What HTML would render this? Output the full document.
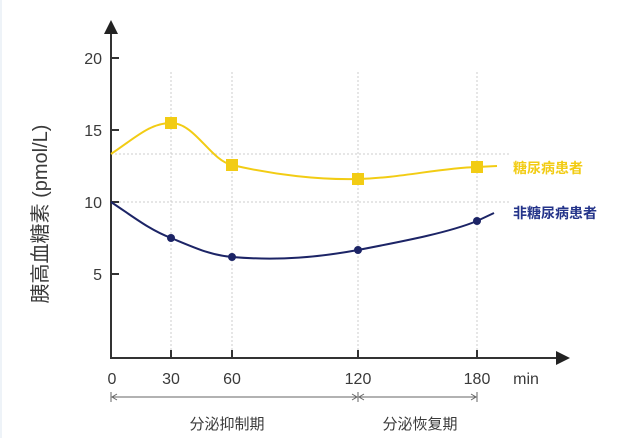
<!DOCTYPE html>
<html><head><meta charset="utf-8"><style>
body{margin:0;background:#fff}
svg{display:block;font-family:"Liberation Sans","Noto Sans CJK SC",sans-serif}
</style></head><body>
<svg width="630" height="438" viewBox="0 0 630 438">
<rect x="0" y="0" width="630" height="438" fill="#fff"/>
<rect x="0" y="0" width="2" height="438" fill="#eef3f8"/>
<g stroke="#ccc" stroke-width="1" stroke-dasharray="2,2" fill="none">
<line x1="171" y1="72" x2="171" y2="358"/>
<line x1="232" y1="72" x2="232" y2="358"/>
<line x1="358" y1="72" x2="358" y2="358"/>
<line x1="477" y1="72" x2="477" y2="358"/>
<line x1="111" y1="154" x2="510" y2="154"/>
<line x1="111" y1="202" x2="510" y2="202"/>
</g>
<g stroke="#333" stroke-width="2" fill="none">
<line x1="111" y1="30" x2="111" y2="359"/>
<line x1="110" y1="358" x2="560" y2="358"/>
<line x1="111" y1="58" x2="119" y2="58"/>
<line x1="111" y1="130" x2="119" y2="130"/>
<line x1="111" y1="202" x2="119" y2="202"/>
<line x1="111" y1="274" x2="119" y2="274"/>
<line x1="171" y1="350" x2="171" y2="358"/>
<line x1="232" y1="350" x2="232" y2="358"/>
<line x1="358" y1="350" x2="358" y2="358"/>
<line x1="477" y1="350" x2="477" y2="358"/>
</g>
<polygon points="111,20 104,34 118,34" fill="#222"/>
<polygon points="570,358 556,351 556,365" fill="#222"/>
<g font-size="16" fill="#3a3a3a" text-anchor="end">
<text x="102" y="64">20</text><text x="102" y="136">15</text><text x="102" y="208">10</text><text x="102" y="280">5</text>
</g>
<g font-size="16" fill="#3a3a3a" text-anchor="middle">
<text x="112" y="384">0</text><text x="171" y="384">30</text><text x="232" y="384">60</text><text x="358" y="384">120</text><text x="477" y="384">180</text>
<text x="526" y="384">min</text>
</g>
<text transform="translate(47,214) rotate(-90)" font-size="20" fill="#3a3a3a" text-anchor="middle">胰高血糖素 (pmol/L)</text>
<path d="M111,154 C135,138 150,123 171,123 C195,123 210,160 232,165 C275,175 320,180 358,179 C400,178 440,168 477,167 L497,166" stroke="#f2cc14" stroke-width="2" fill="none"/>
<g fill="#f2cc14">
<rect x="165" y="117" width="12" height="12"/><rect x="226" y="159" width="12" height="12"/><rect x="352" y="173" width="12" height="12"/><rect x="471" y="161" width="12" height="12"/>
</g>
<path d="M111,202 C135,218 150,230 171,238 C195,248 210,255 232,257 C280,261 320,257 358,250 C410,240 450,232 477,221 L494,213" stroke="#1c2466" stroke-width="2" fill="none"/>
<g fill="#1c2466">
<circle cx="171" cy="238" r="4"/><circle cx="232" cy="257" r="4"/><circle cx="358" cy="250" r="4"/><circle cx="477" cy="221" r="4"/>
</g>
<text x="513" y="173" font-size="14" font-weight="bold" fill="#f2cc14">糖尿病患者</text>
<text x="513" y="218" font-size="14" font-weight="bold" fill="#24348a">非糖尿病患者</text>
<g stroke="#666" stroke-width="1" fill="none">
<line x1="112" y1="397" x2="357" y2="397"/>
<line x1="359" y1="397" x2="476" y2="397"/>
<line x1="111" y1="392" x2="111" y2="402"/>
<line x1="358" y1="392" x2="358" y2="402"/>
<line x1="477" y1="392" x2="477" y2="402"/>
<polyline points="117,394 112,397 117,400"/>
<polyline points="352,394 357,397 352,400"/>
<polyline points="364,394 359,397 364,400"/>
<polyline points="471,394 476,397 471,400"/>
</g>
<text x="227" y="429" font-size="15" fill="#3a3a3a" text-anchor="middle">分泌抑制期</text>
<text x="420" y="429" font-size="15" fill="#3a3a3a" text-anchor="middle">分泌恢复期</text>
</svg>
</body></html>
